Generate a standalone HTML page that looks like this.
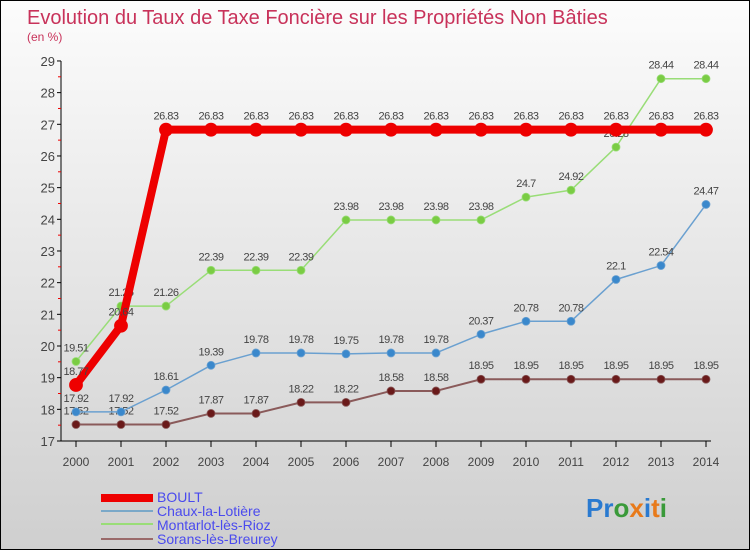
<!DOCTYPE html>
<html><head><meta charset="utf-8"><style>
body{margin:0}
#c{width:750px;height:550px;position:relative;overflow:hidden;box-sizing:border-box;border:1px solid #000;background:linear-gradient(#fcfcfc,#cfcfcf);font-family:"Liberation Sans",sans-serif}
text{font-family:"Liberation Sans",sans-serif}
</style></head><body>
<div id="c">
<svg id="s" width="750" height="550">
<text x="26" y="23" font-size="20" fill="#c8325a">Evolution du Taux de Taxe Foncière sur les Propriétés Non Bâties</text>
<text x="26" y="40" font-size="12" fill="#c8325a">(en %)</text>
<g id="ax"></g><g id="plot"></g>
<g>
<rect x="100" y="493" width="52" height="8" fill="#e00"/>
<text x="156" y="501" font-size="14" fill="#4a4aee">BOULT</text>
<rect x="100" y="509" width="52" height="2" fill="#7aa8c8"/>
<text x="156" y="515" font-size="14" fill="#4a4aee">Chaux-la-Lotière</text>
<rect x="100" y="522" width="52" height="2" fill="#99dd77"/>
<text x="156" y="529" font-size="14" fill="#4a4aee">Montarlot-lès-Rioz</text>
<rect x="100" y="537" width="52" height="2" fill="#9a6a6a"/>
<text x="156" y="543" font-size="14" fill="#4a4aee">Sorans-lès-Breurey</text>
</g>
<g font-size="26" font-weight="bold">
<text x="585" y="516"><tspan fill="#2a7ad0">Pr</tspan><tspan fill="#3a9a3a">o</tspan><tspan fill="#e87a1a">x</tspan><tspan fill="#2a7ad0">i</tspan><tspan fill="#e87a1a">t</tspan><tspan fill="#3a9a3a">i</tspan></text>
</g>
</svg></div>
<script>
const years=[2000,2001,2002,2003,2004,2005,2006,2007,2008,2009,2010,2011,2012,2013,2014];
const yTicks=[17,18,19,20,21,22,23,24,25,26,27,28,29];
const boult=[18.77,20.64,26.83,26.83,26.83,26.83,26.83,26.83,26.83,26.83,26.83,26.83,26.83,26.83,26.83];
const chaux=[17.92,17.92,18.61,19.39,19.78,19.78,19.75,19.78,19.78,20.37,20.78,20.78,22.1,22.54,24.47];
const montarlot=[19.51,21.26,21.26,22.39,22.39,22.39,23.98,23.98,23.98,23.98,24.7,24.92,26.28,28.44,28.44];
const sorans=[17.52,17.52,17.52,17.87,17.87,18.22,18.22,18.58,18.58,18.95,18.95,18.95,18.95,18.95,18.95];
const NS="http://www.w3.org/2000/svg";
const X=i=>75+i*45, Y=v=>440-(v-17)*31.67;
function mk(t,a,p){const e=document.createElementNS(NS,t);for(const k in a)e.setAttribute(k,a[k]);p.appendChild(e);return e;}
const ax=document.getElementById('ax'),plot=document.getElementById('plot');
const yl=mk('line',{x1:60,y1:Y(29),x2:60,y2:440,stroke:'#000'},ax);


const xl=mk('line',{x1:60,y1:440,x2:710,y2:440,stroke:'#000'},ax);


yTicks.forEach(v=>{
 mk('line',{x1:56,y1:Y(v),x2:60,y2:Y(v),stroke:'#000'},ax);
 if(v<29) mk('line',{x1:57,y1:Y(v+0.5),x2:60,y2:Y(v+0.5),stroke:'#e00'},ax);
 const t=mk('text',{x:54,y:Y(v)+5,'text-anchor':'end','font-size':13,fill:'#444'},ax);t.textContent=v;
 
 
});
years.forEach((y,i)=>{
 mk('line',{x1:X(i),y1:440,x2:X(i),y2:446,stroke:'#000'},ax);
 const t=mk('text',{x:X(i),y:465,'text-anchor':'middle','font-size':12,fill:'#444'},ax);t.textContent=y;
 
 
});
function series(d,col,fill,w,r,name){
 const g=mk('g',{},plot);
 
 
 const pl=mk('polyline',{points:d.map((v,i)=>X(i)+','+Y(v)).join(' '),fill:'none',stroke:col,'stroke-width':w,'stroke-linejoin':'round'},g);
 
 
 d.forEach((v,i)=>{
  const c=mk('circle',{cx:X(i),cy:Y(v),r:r,fill:fill,stroke:col,'stroke-width':0.8},g);
  
  
  const t=mk('text',{x:X(i),y:Y(v)-10,'text-anchor':'middle','font-size':11,fill:'#444','letter-spacing':'-0.5'},g);t.textContent=v;
  
  
 });
}
series(sorans,'#8a5a5a','#6a1a1a',2,4,'sorans');
series(chaux,'#6aa0d0','#3a88cc',1.5,4,'chaux');
series(montarlot,'#99dd77','#7acc44',1.5,4,'montarlot');
series(boult,'#ee0000','#ee0000',8,6.5,'boult');
</script>
</body></html>
